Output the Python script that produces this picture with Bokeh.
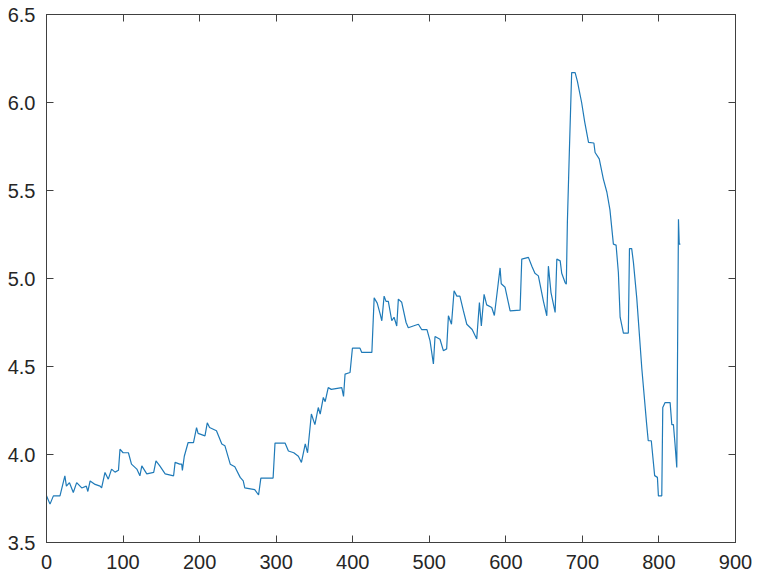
from bokeh.plotting import figure
from bokeh.models import LinearAxis, FixedTicker, Range1d, NumeralTickFormatter
from bokeh.embed import file_html
from bokeh.resources import INLINE

# Vertices of the trace
x_vals = [0, 4.6, 9, 17.6, 24, 26, 30, 35, 39.4, 46, 52, 54, 57, 63.5, 70, 72, 76.4, 80.7, 85, 89.5,
          94, 96, 100, 107, 111, 118, 122, 124.5, 131, 140, 143, 148, 155, 166, 168, 174, 176.6, 177.5, 180, 185,
          192, 196, 198, 207, 210, 213, 222, 229, 233, 240, 246, 253, 257, 259, 272, 277, 280, 296, 298.5, 311.6,
          316, 323, 329, 333, 338, 341, 346, 350.6, 355, 357.5, 361.6, 364, 368, 372, 385.7, 388, 390, 396.5, 399.6, 409.5,
          411.8, 425, 428, 432, 435.7, 438, 441, 443.5, 446.5, 451, 454, 457.5, 459.6, 464, 469.7, 472.6, 479, 485.8, 490, 497,
          501, 505.4, 507.5, 514, 518.4, 522.7, 525, 529, 532.4, 536, 540, 544.6, 549, 556, 562, 565.5, 568, 571.6, 575, 581.6,
          585, 590, 592.5, 594, 599, 605.6, 618.6, 620.8, 629.5, 634, 638, 642.5, 649, 653.5, 655.6, 659, 664.4, 666.6, 671, 673,
          677.4, 679, 680.4, 683, 686, 690.5, 693.5, 699, 703, 708, 715, 716.6, 722, 727.4, 732, 736, 740.5, 744, 747, 749.3,
          753.6, 760, 761.5, 764.4, 766.7, 771, 777.6, 784, 786, 790, 794.4, 798, 799.3, 803.7, 805, 808, 814.6, 816.8, 818.9, 821,
          823.3, 825.5, 826.5, 828]
y_vals = [3.765, 3.718, 3.765, 3.765, 3.879, 3.82, 3.84, 3.784, 3.84, 3.81, 3.82, 3.79, 3.85, 3.83, 3.82, 3.81, 3.898, 3.86, 3.917, 3.90,
          3.91, 4.03, 4.01, 4.01, 3.945, 3.917, 3.879, 3.935, 3.89, 3.898, 3.964, 3.935, 3.89, 3.879, 3.955, 3.945, 3.945, 3.91, 3.99, 4.068,
          4.068, 4.153, 4.12, 4.106, 4.18, 4.153, 4.135, 4.06, 4.05, 3.945, 3.93, 3.87, 3.85, 3.81, 3.80, 3.77, 3.866, 3.866, 4.065, 4.065,
          4.02, 4.01, 3.99, 3.955, 4.06, 4.01, 4.23, 4.17, 4.267, 4.23, 4.324, 4.30, 4.38, 4.37, 4.38, 4.33, 4.457, 4.466, 4.604, 4.604,
          4.58, 4.58, 4.89, 4.86, 4.80, 4.76, 4.90, 4.87, 4.87, 4.76, 4.78, 4.73, 4.883, 4.865, 4.75, 4.72, 4.73, 4.74, 4.71, 4.71,
          4.646, 4.514, 4.67, 4.655, 4.59, 4.60, 4.788, 4.74, 4.93, 4.90, 4.90, 4.816, 4.74, 4.71, 4.656, 4.864, 4.73, 4.91, 4.85, 4.835,
          4.79, 4.97, 5.06, 4.97, 4.95, 4.816, 4.82, 5.11, 5.12, 5.07, 5.03, 5.015, 4.873, 4.788, 5.07, 4.92, 4.807, 5.11, 5.10, 5.03,
          4.977, 4.968, 5.32, 5.726, 6.17, 6.17, 6.12, 6.0, 5.89, 5.773, 5.77, 5.716, 5.68, 5.565, 5.49, 5.39, 5.195, 5.19, 5.034, 4.78,
          4.69, 4.69, 5.17, 5.17, 5.09, 4.89, 4.49, 4.17, 4.078, 4.078, 3.88, 3.87, 3.765, 3.765, 4.267, 4.295, 4.295, 4.17, 4.17, 4.06,
          3.926, 5.337, 5.195, 5.195]

x_ticks = [0, 100, 200, 300, 400, 500, 600, 700, 800, 900]
y_ticks = [3.5, 4.0, 4.5, 5.0, 5.5, 6.0, 6.5]

AX = "#404040"
FONT = "Liberation Sans"

p = figure(width=757, height=580, output_backend="svg", toolbar_location=None,
           x_range=Range1d(0, 900), y_range=Range1d(3.5, 6.5),
           min_border_left=46, min_border_right=22, min_border_top=14, min_border_bottom=38)
p.background_fill_color = "white"
p.border_fill_color = "white"
p.grid.visible = False
p.outline_line_color = AX
p.outline_line_width = 1

p.line(x_vals, y_vals, line_color="#1f7ab8", line_width=1.2)

def style(ax, ticks, show_labels):
    ax.ticker = FixedTicker(ticks=ticks)
    ax.axis_line_color = AX
    ax.major_tick_line_color = AX
    ax.major_tick_in = 7
    ax.major_tick_out = 0
    ax.minor_tick_line_color = None
    if show_labels:
        ax.major_label_text_font = FONT
        ax.major_label_text_font_size = "20px"
        ax.major_label_text_color = "#262626"
    else:
        ax.major_label_text_font_size = "8px"
        ax.major_label_text_color = None
        ax.major_label_standoff = 0

style(p.xaxis[0], x_ticks, True)
p.xaxis[0].major_label_standoff = 12
style(p.yaxis[0], y_ticks, True)
p.yaxis[0].major_label_standoff = 11
p.yaxis[0].formatter = NumeralTickFormatter(format="0.0")

top = LinearAxis()
style(top, x_ticks, False)
p.add_layout(top, "above")
right = LinearAxis()
style(right, y_ticks, False)
p.add_layout(right, "right")

open("out.html", "w").write(file_html(p, INLINE))
